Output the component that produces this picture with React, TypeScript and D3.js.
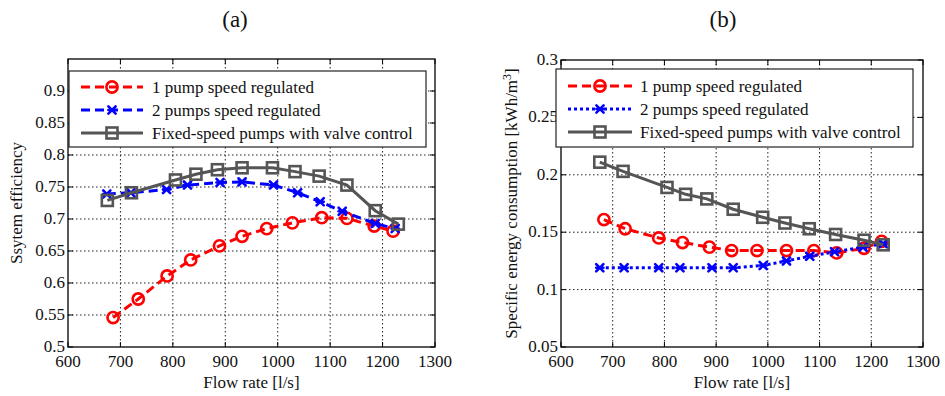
import React from "react";
import * as d3 from "d3";

// ---------- Data ----------
const xTicks = [600, 700, 800, 900, 1000, 1100, 1200, 1300];
const yTicksA = [0.5, 0.55, 0.6, 0.65, 0.7, 0.75, 0.8, 0.85, 0.9];
const yTicksB = [0.05, 0.1, 0.15, 0.2, 0.25, 0.3];
const seriesNames = [
  "1 pump speed regulated",
  "2 pumps speed regulated",
  "Fixed-speed pumps with valve control",
];

const flowA1 = [686, 734, 789, 834, 889, 932, 979, 1028, 1084, 1132, 1184, 1220];
const effA1 = [0.546, 0.575, 0.611, 0.636, 0.658, 0.673, 0.685, 0.694, 0.702, 0.701, 0.689, 0.681];
const flowA2 = [674, 720, 788, 828, 890, 932, 992, 1038, 1081, 1123, 1186, 1224];
const effA2 = [0.739, 0.741, 0.746, 0.753, 0.757, 0.758, 0.753, 0.741, 0.727, 0.712, 0.693, 0.685];
const flowA3 = [675, 721, 805, 844, 885, 932, 990, 1033, 1079, 1132, 1186, 1230];
const effA3 = [0.729, 0.741, 0.761, 0.77, 0.777, 0.78, 0.78, 0.774, 0.767, 0.753, 0.713, 0.692];

const flowB1 = [683, 724, 789, 835, 887, 930, 979, 1036, 1089, 1133, 1186, 1220];
const secB1 = [0.161, 0.153, 0.145, 0.141, 0.137, 0.134, 0.134, 0.134, 0.134, 0.132, 0.136, 0.142];
const flowB2 = [675, 722, 789, 830, 892, 933, 991, 1036, 1081, 1129, 1184, 1223];
const secB2 = [0.119, 0.119, 0.119, 0.119, 0.119, 0.119, 0.121, 0.125, 0.129, 0.133, 0.137, 0.14];
const flowB3 = [675, 720, 805, 841, 882, 933, 990, 1033, 1080, 1131, 1186, 1223];
const secB3 = [0.211, 0.203, 0.189, 0.183, 0.179, 0.17, 0.163, 0.158, 0.153, 0.148, 0.143, 0.139];

const FONT = "'Liberation Serif', 'Times New Roman', Times, serif";
const RED = "#ff0000";
const BLUE = "#0000ff";
const GRAY = "#555555";
const FS = 17;

type Series = { xs: number[]; ys: number[]; color: string; dash: string; marker: "o" | "x" | "s" };

function Marker({ kind, x, y, color }: { kind: string; x: number; y: number; color: string }) {
  if (kind === "o")
    return <circle cx={x} cy={y} r={5.6} fill="none" stroke={color} strokeWidth={2.6} />;
  if (kind === "s")
    return <rect x={x - 5.5} y={y - 5.5} width={11} height={11} fill="none" stroke={color} strokeWidth={2.6} />;
  const s = 3.6;
  return (
    <g stroke={color} strokeWidth={2.6} strokeLinecap="round">
      <line x1={x - s} y1={y - s} x2={x + s} y2={y + s} />
      <line x1={x - s} y1={y + s} x2={x + s} y2={y - s} />
      <line x1={x - s} y1={y} x2={x + s} y2={y} />
    </g>
  );
}

function Panel({
  left, right, top, bottom, yDomain, yTicks, title, titleX, series, legend, yLabel, yLabelX,
}: {
  left: number; right: number; top: number; bottom: number; yDomain: [number, number]; yTicks: number[];
  title: string; titleX: number; series: Series[];
  legend: { x0: number; x1: number; y0: number; y1: number; rows: number[]; l0: number; l1: number; tx: number };
  yLabel: React.ReactNode; yLabelX: number;
}) {
  const x = d3.scaleLinear().domain([600, 1300]).range([left, right]);
  const y = d3.scaleLinear().domain(yDomain).range([bottom, top]);
  const line = d3.line<[number, number]>().x((d) => x(d[0])).y((d) => y(d[1]));
  const tl = 5;
  const fmt = (v: number) => String(+v.toFixed(2));
  const midY = (top + bottom) / 2;
  return (
    <g style={{ fontFamily: FONT }} fill="#111">
      <text x={titleX} y={27} fontSize={23} textAnchor="middle">{title}</text>
      {/* grid */}
      {xTicks.slice(1, -1).map((t) => (
        <line key={"gx" + t} x1={x(t)} x2={x(t)} y1={top} y2={bottom} stroke="#222" strokeWidth={1} strokeDasharray="1.5,2.5" />
      ))}
      {yTicks.filter((t) => y(t) < bottom - 1 && y(t) > top + 1).map((t) => (
        <line key={"gy" + t} x1={left} x2={right} y1={y(t)} y2={y(t)} stroke="#222" strokeWidth={1} strokeDasharray="1.5,2.5" />
      ))}
      {/* ticks */}
      {xTicks.map((t) => (
        <g key={"tx" + t}>
          <line x1={x(t)} x2={x(t)} y1={bottom} y2={bottom - tl} stroke="#000" />
          <line x1={x(t)} x2={x(t)} y1={top} y2={top + tl} stroke="#000" />
          <text x={x(t)} y={bottom + 20} fontSize={FS} textAnchor="middle">{t}</text>
        </g>
      ))}
      {yTicks.map((t) => (
        <g key={"ty" + t}>
          <line x1={left} x2={left + tl} y1={y(t)} y2={y(t)} stroke="#000" />
          <line x1={right} x2={right - tl} y1={y(t)} y2={y(t)} stroke="#000" />
          <text x={left - 3} y={y(t) + 5} fontSize={FS} textAnchor="end">{fmt(t)}</text>
        </g>
      ))}
      {/* series */}
      {series.map((s, i) => (
        <g key={"s" + i}>
          <path d={line(s.xs.map((v, j) => [v, s.ys[j]]) as [number, number][]) || ""} fill="none"
            stroke={s.color} strokeWidth={3} strokeDasharray={s.dash} />
          {s.xs.map((v, j) => (
            <Marker key={j} kind={s.marker} x={x(v)} y={y(s.ys[j])} color={s.color} />
          ))}
        </g>
      ))}
      {/* box */}
      <rect x={left} y={top} width={right - left} height={bottom - top} fill="none" stroke="#000" strokeWidth={1.3} />
      {/* legend */}
      <rect x={legend.x0} y={legend.y0} width={legend.x1 - legend.x0} height={legend.y1 - legend.y0} fill="#fff" stroke="#222" strokeWidth={1.2} />
      {series.map((s, i) => (
        <g key={"l" + i}>
          <line x1={legend.l0} x2={legend.l1} y1={legend.rows[i]} y2={legend.rows[i]} stroke={s.color} strokeWidth={3} strokeDasharray={s.dash} />
          <Marker kind={s.marker} x={(legend.l0 + legend.l1) / 2} y={legend.rows[i]} color={s.color} />
          <text x={legend.tx} y={legend.rows[i] + 5.5} fontSize={FS}>{seriesNames[i]}</text>
        </g>
      ))}
      {/* axis labels */}
      <text x={(left + right) / 2} y={bottom + 41} fontSize={FS} textAnchor="middle">Flow rate [l/s]</text>
      <text transform={`translate(${yLabelX},${midY}) rotate(-90)`} fontSize={FS} textAnchor="middle">{yLabel}</text>
    </g>
  );
}

export default function App() {
  const seriesA: Series[] = [
    { xs: flowA1, ys: effA1, color: RED, dash: "9,5", marker: "o" },
    { xs: flowA2, ys: effA2, color: BLUE, dash: "9,5", marker: "x" },
    { xs: flowA3, ys: effA3, color: GRAY, dash: "", marker: "s" },
  ];
  const seriesB: Series[] = [
    { xs: flowB1, ys: secB1, color: RED, dash: "9,5", marker: "o" },
    { xs: flowB2, ys: secB2, color: BLUE, dash: "3,3", marker: "x" },
    { xs: flowB3, ys: secB3, color: GRAY, dash: "", marker: "s" },
  ];
  return (
    <svg width={945} height={396} style={{ position: "absolute", left: 0, top: 0, background: "#fff" }}>
      <rect width={945} height={396} fill="#fff" />
      <Panel left={68} right={435} top={59} bottom={347} yDomain={[0.5, 0.95]} yTicks={yTicksA}
        title="(a)" titleX={235} series={seriesA}
        legend={{ x0: 69, x1: 426, y0: 71, y1: 147, rows: [87, 110, 133], l0: 81, l1: 143, tx: 152 }}
        yLabel="Ssytem efficiency" yLabelX={22} />
      <Panel left={561} right={923} top={60} bottom={347} yDomain={[0.05, 0.3]} yTicks={yTicksB}
        title="(b)" titleX={723} series={seriesB}
        legend={{ x0: 556, x1: 913, y0: 69, y1: 147, rows: [86, 109, 132], l0: 568, l1: 632, tx: 640 }}
        yLabel={<>Specific energy consumption [kWh/m<tspan dy={-6} fontSize={12}>3</tspan><tspan dy={6}>]</tspan></>}
        yLabelX={517} />
    </svg>
  );
}
